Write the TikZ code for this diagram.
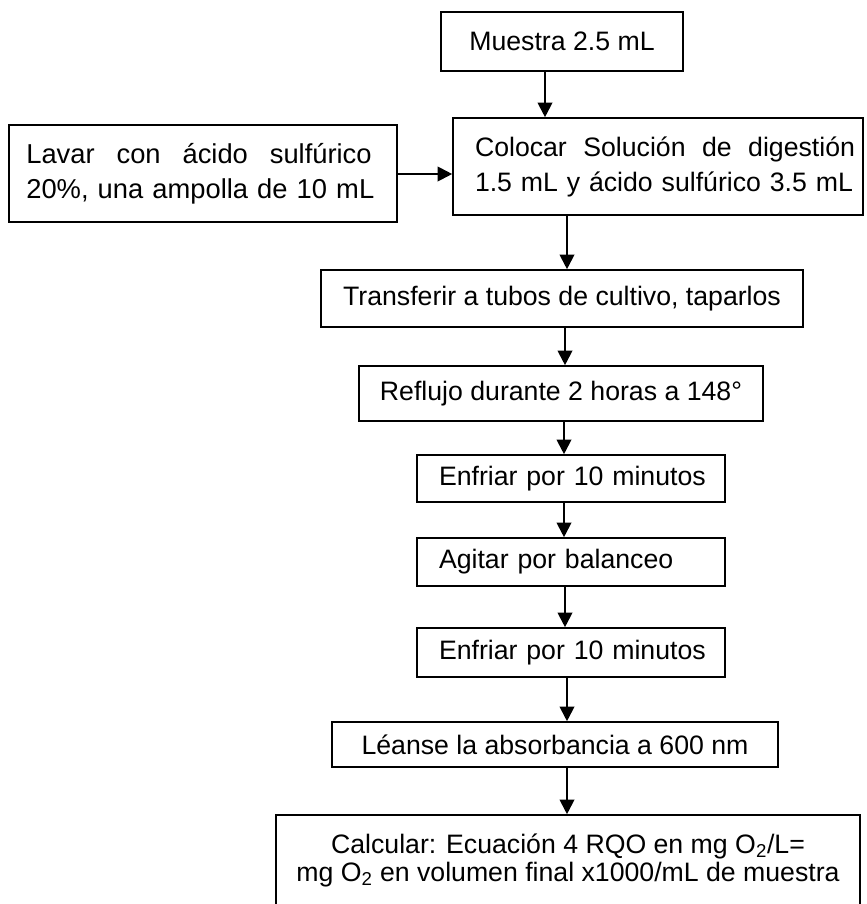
\documentclass[tikz,border=0pt]{standalone}
\usepackage{fontspec}
\setmainfont{Liberation Sans}
\usetikzlibrary{arrows.meta}
\begin{document}
\begin{tikzpicture}[x=0.75pt,y=-0.75pt,
  box/.style={draw,line width=1.2pt,inner sep=0pt,font=\fontsize{20}{24}\selectfont},
  leftbox/.style={box,text width=214.5pt,inner xsep=8.25pt,align=left},
  arr/.style={line width=1.5pt,-{Triangle[length=11pt,width=11pt]}}]
\useasboundingbox (0,0) rectangle (867,904);
\fill[white] (0,0) rectangle (867,904);
% boxes
\node[box,minimum width=181.5pt,minimum height=44.25pt] (m1) at (562,41.5) {Muestra 2.5 mL};
\node[box,minimum width=291pt,minimum height=72.75pt,text width=265pt,align=left,
      font=\fontsize{20.5}{26.25}\selectfont] (lav) at (203,173.5)
  {\makebox[265pt][l]{Lavar\hfill con\hfill ácido\hfill sulfúrico\hspace*{6pt}}\\20\%, una ampolla de 10 mL};
\node[box,minimum width=307.5pt,minimum height=72.75pt,text width=300pt,align=left,
      font=\fontsize{20}{26.25}\selectfont] (col) at (658,166.5)
  {\hspace*{12.75pt}\makebox[285pt][l]{Colocar\hfill Solución\hfill de\hfill digestión}\\\hspace*{12.75pt}1.5 mL y ácido sulfúrico 3.5 mL};
\node[box,minimum width=361.5pt,minimum height=42.75pt] (tra) at (562,298.5) {Transferir a tubos de cultivo, taparlos};
\node[box,minimum width=303pt,minimum height=41.25pt] (ref) at (561,393.5) {Reflujo durante 2 horas a 148°};
\node[leftbox,minimum height=35.25pt] (enf1) at (571,478.5) {\hspace*{8.25pt}Enfriar por 10 minutos};
\node[leftbox,minimum height=36pt] (agi) at (571,562) {\hspace*{8.25pt}Agitar por balanceo};
\node[leftbox,minimum height=36.75pt] (enf2) at (571,652.5) {\hspace*{8.25pt}Enfriar por 10 minutos};
\node[box,minimum width=334.5pt,minimum height=33.75pt] (lea) at (555,744.5) {Léanse la absorbancia a 600 nm};
\node[box,minimum width=438pt,minimum height=68.25pt,align=center,
      font=\fontsize{20}{21}\selectfont] (cal) at (568,860.5)
  {Calcular: Ecuación 4 RQO en mg O\textsubscript{2}/L=\\mg O\textsubscript{2} en volumen final x1000/mL de muestra};
% arrow columns
\coordinate (xa) at (545,0);
\coordinate (xb) at (567,0);
\coordinate (xc) at (565,0);
\coordinate (xd) at (564,0);
\coordinate (ya) at (0,174);
% connectors
\draw[arr] (m1.south -| xa) -- (col.north -| xa);
\draw[arr] (lav.east |- ya) -- (col.west |- ya);
\draw[arr] (col.south -| xb) -- (tra.north -| xb);
\draw[arr] (tra.south -| xc) -- (ref.north -| xc);
\draw[arr] (ref.south -| xd) -- (enf1.north -| xd);
\draw[arr] (enf1.south -| xd) -- (agi.north -| xd);
\draw[arr] (agi.south -| xc) -- (enf2.north -| xc);
\draw[arr] (enf2.south -| xb) -- (lea.north -| xb);
\draw[arr] (lea.south -| xb) -- (cal.north -| xb);
\end{tikzpicture}
\end{document}
